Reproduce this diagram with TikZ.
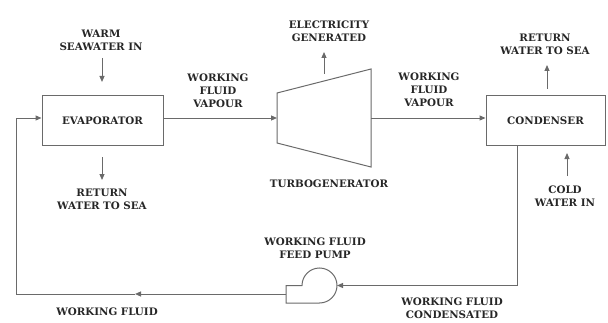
\documentclass[tikz,border=0pt]{standalone}
\usepackage{fontspec}
\setmainfont{DejaVu Serif}
\usetikzlibrary{arrows.meta}
\definecolor{ln}{HTML}{6A6A6A}
\definecolor{tx}{HTML}{262626}
\begin{document}
\begin{tikzpicture}[x=1pt,y=1pt,
  lbl/.style={font=\fontsize{10.3}{12.8}\selectfont\bfseries, text=tx, align=center, inner sep=0pt},
  blk/.style={draw=ln, line width=1pt, minimum width=121pt, minimum height=49pt, inner sep=0pt,
              font=\fontsize{10.3}{12.8}\selectfont\bfseries, text=tx},
  flow/.style={draw=ln, line width=1pt},
  arr/.style={flow, -{Triangle[length=6pt,width=5pt]}}]
\useasboundingbox (0,0) rectangle (608,322);

% blocks
\node[blk] (evap) at (102.5,201.5) {EVAPORATOR};
\node[blk, minimum width=119pt] (cond) at (545.5,201.5) {CONDENSER};

% turbine
\coordinate (t1) at (277,179);
\coordinate (t2) at (277,229);
\coordinate (t3) at (371,253);
\coordinate (t4) at (371,155);
\coordinate (tin) at (277,204);
\coordinate (tout) at (371,204);
\draw[flow] (t1) -- (t2) -- (t3) -- (t4) -- cycle;

% pump
\coordinate (pout) at (286,28);
\coordinate (pin) at (337,36.5);
\draw[flow] (286,19) -- (286,36.5) -- (302,36.5) arc[start angle=180, end angle=-90, radius=17.5] -- cycle;

% main loop
\draw[arr] ([yshift=2.5pt]evap.east) -- (tin);
\draw[arr] (tout) -- ([yshift=2.5pt]cond.west);
\draw[arr] ([xshift=-28.5pt]cond.south) |- (pin);
\coordinate (mid) at (135,28);
\coordinate (bl) at (16,28);
\draw[arr] (pout) -- (mid);
\draw[arr] (mid) -- (bl) |- ([yshift=2.5pt]evap.west);

% side streams
\coordinate (w1) at (102,264); \coordinate (w2) at (102,240);
\draw[arr] (w1) -- (w2);
\coordinate (r1) at (102,165); \coordinate (r2) at (102,142);
\draw[arr] (r1) -- (r2);
\coordinate (e1) at (324,248); \coordinate (e2) at (324,270);
\draw[arr] (e1) -- (e2);
\coordinate (s1) at (547,233); \coordinate (s2) at (547,257);
\draw[arr] (s1) -- (s2);
\coordinate (c1) at (567,146); \coordinate (c2) at (567,169);
\draw[arr] (c1) -- (c2);

% labels
\node[lbl] (lwarm) at (101,281.5) {WARM\\SEAWATER IN};
\node[lbl] (lret1) at (102,122.5) {RETURN\\WATER TO SEA};
\node[lbl] (lvap1) at (218,231) {WORKING\\FLUID\\VAPOUR};
\node[lbl] (lelec) at (329,291) {ELECTRICITY\\GENERATED};
\node[lbl] (lturb) at (329,138) {TURBOGENERATOR};
\node[lbl] (lvap2) at (429,232.5) {WORKING\\FLUID\\VAPOUR};
\node[lbl] (lret2) at (545,277.5) {RETURN\\WATER TO SEA};
\node[lbl] (lcold) at (565,125.5) {COLD\\WATER IN};
\node[lbl] (lpump) at (315,74) {WORKING FLUID\\FEED PUMP};
\node[lbl] (lwf) at (107,10) {WORKING FLUID};
\node[lbl] (lcond) at (452,13.5) {WORKING FLUID\\CONDENSATED};
\end{tikzpicture}
\end{document}
